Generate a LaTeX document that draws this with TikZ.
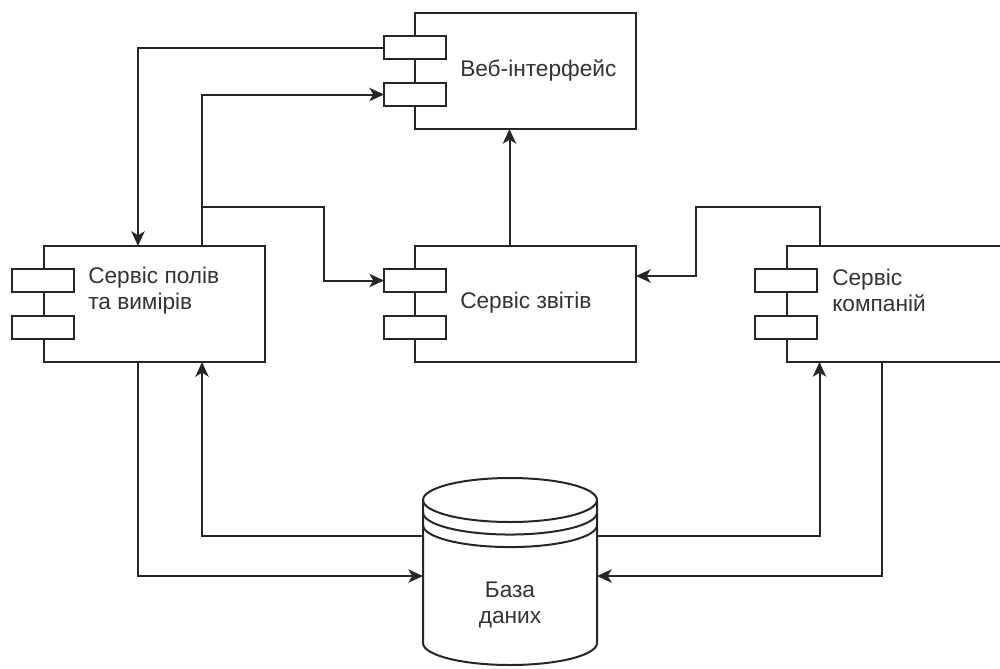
\documentclass[tikz,border=0pt]{standalone}
\usepackage{fontspec}
\setmainfont{Liberation Sans}
\usetikzlibrary{arrows.meta}

\begin{document}
\begin{tikzpicture}[x=0.75pt, y=-0.75pt,
  line/.style={draw=black!85, line width=1.5pt},
  comp/.style={line, fill=white, rectangle, minimum width=165.75pt, minimum height=87pt, inner sep=0pt, outer sep=0pt},
  port/.style={line, fill=white, rectangle, minimum width=46.5pt, minimum height=17.25pt, inner sep=0pt, outer sep=0pt},
  dbbox/.style={rectangle, minimum width=130.5pt, minimum height=140.25pt, inner sep=0pt, outer sep=0pt},
  txt/.style={font=\fontsize{17}{19.5}\selectfont, text=black!80, align=left, anchor=west, inner sep=0pt},
  flow/.style={line, -{Stealth[length=11pt, width=10pt, inset=3pt]}}]
\useasboundingbox (0,0) rectangle (1000,668);
\clip (0,0) rectangle (1000,668);

% components
\node[comp] (web) at (525.5,71) {};
\node[comp] (fields) at (154,304) {};
\node[comp] (reports) at (525.5,304) {};
\node[comp] (companies) at (897.5,304) {};

% two ports on the left side of every component
\node[port] (wp1) at (415,47.5) {};
\node[port] (wp2) at (415,94.5) {};
\node[port] (fp1) at (43,280.5) {};
\node[port] (fp2) at (43,327.5) {};
\node[port] (rp1) at (415,280.5) {};
\node[port] (rp2) at (415,327.5) {};
\node[port] (cp1) at (786,280.5) {};
\node[port] (cp2) at (786,327.5) {};

\node[txt] (webtxt) at (460,70) {Веб-інтерфейс};
\node[txt] (fldtxt) at (88,291) {Сервіс полів\\та вимірів};
\node[txt] (reptxt) at (460,303) {Сервіс звітів};
\node[txt] (comtxt) at (832,290) {Сервіс\\компаній};

% database, drawn round an empty node
\node[dbbox] (db) at (510,571.5) {};
\draw[line] ([yshift=-16.5pt]db.north west) -- ([yshift=16.5pt]db.south west)
  arc[start angle=180, end angle=360, x radius=65.25pt, y radius=16.5pt]
  -- ([yshift=-16.5pt]db.north east);
\draw[line] ([yshift=-16.5pt]db.north) ellipse[x radius=65.25pt, y radius=16.5pt];
\foreach \d in {9.4,18.8}
  \draw[line] ([yshift=-16.5pt-\d pt]db.north west)
    arc[start angle=180, end angle=360, x radius=65.25pt, y radius=16.5pt];
\node[txt, align=center, anchor=center] (dbtxt) at (510,605) {База\\даних};

% connectors
\draw[flow] (wp1.west) -| ([xshift=-12pt]fields.north);
\draw[flow] ([xshift=36pt]fields.north) |- (wp2.west);
\draw[flow] ([xshift=36pt]fields.north) |- ++(122,-39) |- (rp1.west);
\draw[flow] ([xshift=-12pt]reports.north) -- ([xshift=-12pt]web.south);
\draw[flow] ([xshift=-58.5pt]companies.north) |- ++(-124,-39) |- ([yshift=21pt]reports.east);
\draw[flow] ([xshift=-12pt]fields.south) |- ([yshift=-3.4pt]db.west);
\draw[flow] ([yshift=26.6pt]db.west) -| ([xshift=36pt]fields.south);
\draw[flow] ([yshift=26.6pt]db.east) -| ([xshift=-58.5pt]companies.south);
\draw[flow] ([xshift=-12pt]companies.south) |- ([yshift=-3.4pt]db.east);

\end{tikzpicture}
\end{document}
